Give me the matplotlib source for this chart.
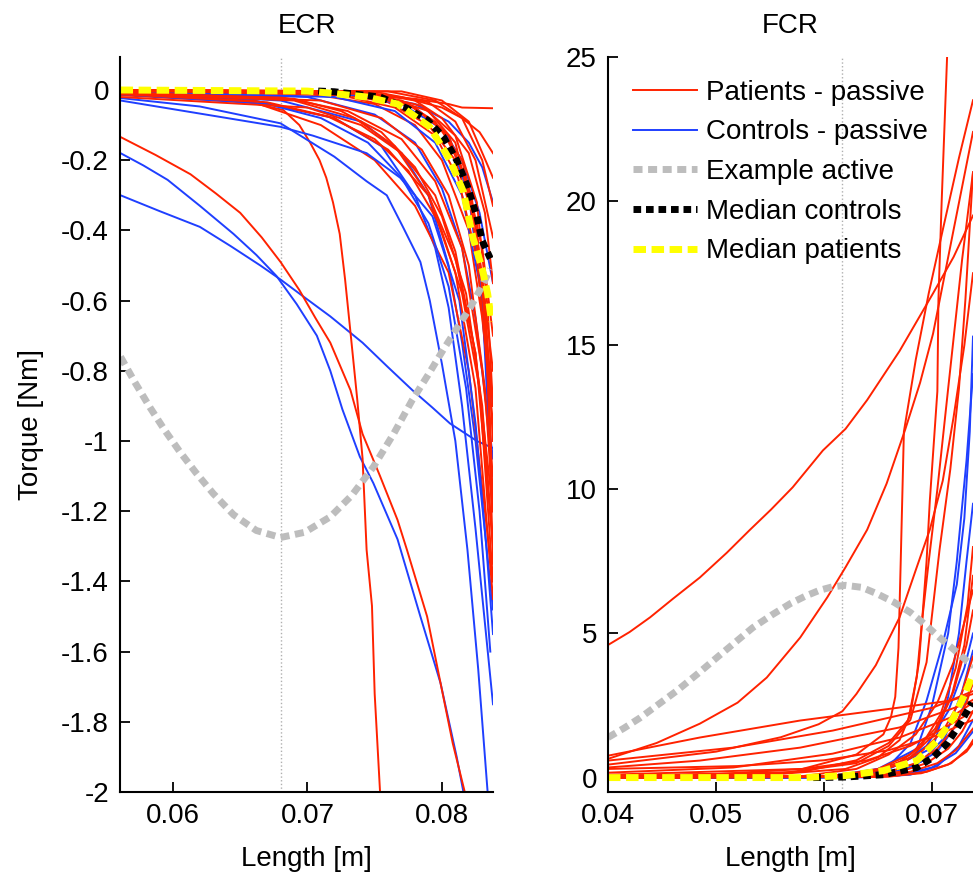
import matplotlib.pyplot as plt

# ---- ECR (left panel): each curve = ([length m], [torque Nm])
ECR_PATIENTS = [
    ([0.0561, 0.068, 0.074, 0.078, 0.0805, 0.0815, 0.0838], [-0.005, -0.01, -0.015, -0.025, -0.04, -0.05, -0.052]),
    ([0.0561, 0.072, 0.077, 0.080, 0.0815, 0.0828, 0.0838], [0, -0.005, -0.02, -0.05, -0.08, -0.12, -0.18]),
    ([0.0561, 0.064, 0.0682, 0.0694, 0.0702, 0.0709, 0.0714, 0.0719, 0.0724, 0.0728, 0.0732, 0.0737, 0.0741, 0.0744,
      0.0748, 0.075, 0.0754],
     [-0.005, -0.02, -0.057, -0.1, -0.15, -0.2, -0.25, -0.32, -0.41, -0.54, -0.69, -0.88, -1.05, -1.31, -1.47, -1.72, -2.0]),
    ([0.0561, 0.0587, 0.0613, 0.0632, 0.065, 0.0666, 0.068, 0.0694, 0.0706, 0.0717, 0.0732, 0.0741, 0.0754, 0.0767,
      0.0774, 0.0789, 0.0799, 0.0808, 0.0817],
     [-0.134, -0.185, -0.24, -0.295, -0.35, -0.42, -0.49, -0.57, -0.65, -0.72, -0.855, -0.98, -1.10, -1.225, -1.31,
      -1.50, -1.69, -1.86, -2.0]),
    ([0.0561, 0.066, 0.072, 0.076, 0.079, 0.081, 0.0825, 0.0838], [-0.01, -0.03, -0.08, -0.17, -0.3, -0.48, -0.75, -1.2]),
    ([0.0561, 0.066, 0.071, 0.075, 0.078, 0.0805, 0.082, 0.0838], [-0.015, -0.035, -0.10, -0.2, -0.33, -0.52, -0.8, -1.4]),
    ([0.0561, 0.068, 0.073, 0.077, 0.0795, 0.0815, 0.083, 0.0838], [-0.005, -0.02, -0.06, -0.14, -0.26, -0.45, -0.8, -1.1]),
    ([0.0561, 0.07, 0.075, 0.078, 0.080, 0.082, 0.083, 0.0838], [0, -0.01, -0.04, -0.1, -0.2, -0.4, -0.65, -0.95]),
    ([0.0561, 0.072, 0.076, 0.079, 0.081, 0.0825, 0.0838], [0, -0.008, -0.035, -0.1, -0.2, -0.38, -0.8]),
    ([0.0561, 0.073, 0.077, 0.0795, 0.0815, 0.083, 0.0838], [0, -0.005, -0.03, -0.09, -0.2, -0.45, -0.7]),
    ([0.0561, 0.074, 0.078, 0.080, 0.082, 0.0832, 0.0838], [0, -0.004, -0.03, -0.08, -0.18, -0.35, -0.55]),
    ([0.0561, 0.075, 0.079, 0.081, 0.0825, 0.0838], [0, -0.005, -0.035, -0.09, -0.2, -0.42]),
    ([0.0561, 0.076, 0.0795, 0.0815, 0.083, 0.0838], [0, -0.004, -0.03, -0.08, -0.2, -0.33]),
    ([0.0561, 0.077, 0.080, 0.082, 0.0838], [0, -0.004, -0.03, -0.09, -0.25]),
    ([0.0561, 0.070, 0.074, 0.077, 0.0795, 0.081, 0.0825, 0.0838], [-0.02, -0.05, -0.1, -0.18, -0.3, -0.46, -0.75, -1.3]),
    ([0.0561, 0.069, 0.0735, 0.0765, 0.079, 0.081, 0.0825, 0.0838], [-0.008, -0.03, -0.08, -0.16, -0.3, -0.52, -0.85, -1.45]),
    ([0.0561, 0.074, 0.078, 0.0805, 0.0822, 0.0832, 0.0838], [0, -0.01, -0.05, -0.13, -0.3, -0.6, -1.0]),
    ([0.0561, 0.075, 0.079, 0.081, 0.0826, 0.0838], [-0.003, -0.01, -0.06, -0.15, -0.4, -0.9]),
    ([0.0561, 0.071, 0.0755, 0.0785, 0.0805, 0.082, 0.0832, 0.0838], [-0.01, -0.03, -0.08, -0.17, -0.3, -0.5, -0.85, -1.2]),
    ([0.0561, 0.0725, 0.0765, 0.0795, 0.0812, 0.0826, 0.0834, 0.0838], [0, -0.015, -0.05, -0.13, -0.25, -0.48, -0.8, -1.35]),
    ([0.0561, 0.0735, 0.0775, 0.080, 0.0818, 0.083, 0.0836, 0.0838], [0, -0.01, -0.04, -0.11, -0.25, -0.55, -0.95, -1.2]),
    ([0.0561, 0.067, 0.0715, 0.075, 0.0775, 0.0798, 0.0815, 0.0828, 0.0838],
     [-0.012, -0.035, -0.075, -0.14, -0.23, -0.38, -0.58, -0.85, -1.4]),
    ([0.0561, 0.069, 0.0725, 0.0755, 0.078, 0.080, 0.0818, 0.083, 0.0838],
     [-0.006, -0.025, -0.06, -0.12, -0.22, -0.36, -0.58, -0.9, -1.3]),
    ([0.0561, 0.0745, 0.0785, 0.081, 0.0826, 0.0834, 0.0838], [0, -0.01, -0.045, -0.13, -0.32, -0.62, -0.9]),
]
ECR_CONTROLS = [
    ([0.0561, 0.0578, 0.0596, 0.062, 0.0645, 0.0662, 0.0677, 0.0692, 0.0707, 0.0717, 0.0726, 0.0739, 0.0749, 0.0767,
      0.0784, 0.0799, 0.0811, 0.0816],
     [-0.18, -0.215, -0.256, -0.33, -0.41, -0.47, -0.53, -0.61, -0.70, -0.80, -0.91, -1.045, -1.12, -1.28, -1.50, -1.69,
      -1.90, -2.0]),
    ([0.0561, 0.059, 0.062, 0.0643, 0.0665, 0.068, 0.0694, 0.0717, 0.0741, 0.076, 0.0778, 0.0793, 0.0806, 0.0826, 0.0838],
     [-0.30, -0.345, -0.39, -0.445, -0.50, -0.54, -0.58, -0.645, -0.72, -0.79, -0.855, -0.905, -0.95, -1.0, -1.02]),
    ([0.0561, 0.062, 0.068, 0.072, 0.0744, 0.0759, 0.0771, 0.0784, 0.0791, 0.080, 0.081, 0.0819, 0.0827, 0.0834],
     [-0.023, -0.047, -0.095, -0.19, -0.26, -0.30, -0.39, -0.49, -0.6, -0.78, -1.0, -1.31, -1.65, -2.0]),
    ([0.0561, 0.066, 0.072, 0.0755, 0.078, 0.0795, 0.0805, 0.0815, 0.0825, 0.0838],
     [-0.01, -0.03, -0.08, -0.16, -0.3, -0.45, -0.62, -0.9, -1.25, -1.75]),
    ([0.0561, 0.068, 0.074, 0.077, 0.079, 0.0805, 0.0815, 0.0825, 0.0838], [-0.005, -0.03, -0.09, -0.18, -0.3, -0.5, -0.72, -1.0, -1.48]),
    ([0.0561, 0.07, 0.075, 0.078, 0.080, 0.0815, 0.0825, 0.0838], [-0.003, -0.02, -0.07, -0.15, -0.28, -0.45, -0.65, -1.05]),
    ([0.0561, 0.074, 0.078, 0.0805, 0.082, 0.083, 0.0838], [0, -0.01, -0.04, -0.09, -0.15, -0.22, -0.32]),
    ([0.0561, 0.073, 0.077, 0.080, 0.0815, 0.0828, 0.0838], [-0.002, -0.012, -0.04, -0.11, -0.2, -0.35, -0.55]),
    ([0.0561, 0.074, 0.078, 0.0805, 0.082, 0.083, 0.0838], [0, -0.015, -0.05, -0.13, -0.3, -0.6, -1.2]),
    ([0.0561, 0.068, 0.0704, 0.0744, 0.0769, 0.0793, 0.0813, 0.0825, 0.0833, 0.0838],
     [-0.03, -0.105, -0.13, -0.18, -0.25, -0.36, -0.6, -0.95, -1.3, -1.55]),
    ([0.0561, 0.067, 0.071, 0.0745, 0.077, 0.079, 0.0805, 0.0818, 0.0828, 0.0836],
     [-0.012, -0.04, -0.08, -0.15, -0.25, -0.38, -0.56, -0.85, -1.2, -1.6]),
    ([0.0561, 0.072, 0.0765, 0.0795, 0.0815, 0.0828, 0.0838], [-0.004, -0.02, -0.06, -0.15, -0.3, -0.55, -0.9]),
]
ECR_ACTIVE_X = [0.0561, 0.0572, 0.0583, 0.0594, 0.0605, 0.0617, 0.063, 0.0645, 0.0662, 0.068, 0.0698, 0.0717,
                0.0733, 0.0749, 0.0764, 0.0778, 0.079, 0.0801, 0.0811, 0.0821, 0.0829, 0.0836]
ECR_ACTIVE_Y = [-0.76, -0.835, -0.905, -0.97, -1.03, -1.09, -1.15, -1.21, -1.255, -1.275, -1.26, -1.216,
                -1.155, -1.074, -0.98, -0.883, -0.81, -0.74, -0.68, -0.62, -0.565, -0.51]
ECR_MED_CTRL_X = [0.0708, 0.072, 0.0754, 0.0774, 0.0789, 0.0801, 0.0811, 0.0819, 0.0826, 0.083, 0.0836]
ECR_MED_CTRL_Y = [-0.003, -0.005, -0.02, -0.052, -0.085, -0.133, -0.2, -0.275, -0.36, -0.43, -0.48]
ECR_MED_PAT_X = [0.0561, 0.070, 0.0717, 0.0744, 0.0767, 0.0791, 0.0806, 0.0816, 0.0823, 0.0830, 0.0834, 0.0837]
ECR_MED_PAT_Y = [0, -0.003, -0.009, -0.02, -0.04, -0.105, -0.20, -0.29, -0.42, -0.51, -0.58, -0.66]
ECR_OPT_LENGTH = 0.068

# ---- FCR (right panel)
FCR_PATIENTS = [
    ([0.04, 0.042, 0.0439, 0.046, 0.0485, 0.051, 0.0531, 0.0551, 0.0571, 0.0599, 0.062, 0.064, 0.067, 0.0701, 0.072, 0.0738],
     [4.6, 5.05, 5.56, 6.2, 6.94, 7.8, 8.58, 9.3, 10.07, 11.35, 12.1, 13.1, 14.8, 16.8, 18.06, 19.5]),
    ([0.04, 0.055, 0.062, 0.065, 0.067, 0.068, 0.0688, 0.0695, 0.0698, 0.0705, 0.0706, 0.0709, 0.0714],
     [0.05, 0.1, 0.3, 0.7, 1.3, 2.2, 4.0, 7.5, 9.6, 13.4, 16.6, 20, 25]),
    ([0.04, 0.0445, 0.0485, 0.052, 0.0547, 0.0578, 0.0603, 0.062, 0.064, 0.0658, 0.0675, 0.0689, 0.0701, 0.072, 0.0738],
     [0.65, 1.2, 1.87, 2.6, 3.47, 4.86, 6.25, 7.3, 8.6, 10.2, 12.05, 13.7, 15.4, 19.0, 22.4]),
    ([0.04, 0.05, 0.056, 0.0595, 0.0617, 0.063, 0.0648, 0.067, 0.0685, 0.0698, 0.071, 0.072, 0.073, 0.0738],
     [0.45, 0.9, 1.4, 1.85, 2.3, 2.9, 3.9, 5.56, 7.2, 8.6, 10.3, 12.5, 15, 17.5]),
    ([0.04, 0.056, 0.063, 0.066, 0.068, 0.0695, 0.0707, 0.0717, 0.0725, 0.0731, 0.0738],
     [0.05, 0.15, 0.5, 1.1, 2.0, 4.0, 7.9, 10.7, 13.5, 16.6, 21.0]),
    ([0.04, 0.058, 0.063, 0.0655, 0.0662, 0.0666, 0.0669, 0.0671, 0.0674, 0.0685, 0.0697, 0.071, 0.0725, 0.0738],
     [0.1, 0.3, 0.8, 1.5, 2.1, 2.8, 4.5, 7.4, 12.0, 14.5, 16.8, 19.0, 21.5, 23.5]),
    ([0.04, 0.0485, 0.0578, 0.067, 0.0717, 0.0738], [0.76, 1.39, 1.98, 2.43, 2.67, 2.9]),
    ([0.04, 0.0516, 0.0608, 0.0701, 0.0738], [0.59, 1.04, 1.63, 2.43, 3.0]),
    ([0.04, 0.0485, 0.0578, 0.067, 0.0732, 0.0738], [0.35, 0.59, 1.04, 1.74, 2.57, 2.7]),
    ([0.04, 0.0516, 0.0608, 0.067, 0.0717, 0.0738], [0.17, 0.35, 0.83, 1.39, 2.08, 2.6]),
    ([0.04, 0.05, 0.058, 0.064, 0.068, 0.0715, 0.0738], [0.05, 0.12, 0.3, 0.6, 1.1, 1.8, 2.3]),
    ([0.04, 0.052, 0.06, 0.066, 0.07, 0.0738], [0.3, 0.4, 0.6, 0.95, 1.4, 2.0]),
    ([0.04, 0.06, 0.064, 0.067, 0.069, 0.071, 0.0725, 0.0738], [0, 0.02, 0.15, 0.45, 0.9, 1.6, 2.6, 4.2]),
    ([0.04, 0.062, 0.066, 0.0685, 0.0705, 0.072, 0.0732, 0.0738], [0, 0.03, 0.2, 0.5, 1.0, 1.7, 2.6, 3.3]),
    ([0.04, 0.063, 0.067, 0.0695, 0.0715, 0.0728, 0.0738], [0, 0.03, 0.2, 0.5, 1.0, 1.6, 2.3]),
    ([0.04, 0.064, 0.068, 0.0705, 0.0722, 0.0738], [0, 0.03, 0.2, 0.5, 0.95, 1.7]),
    ([0.04, 0.058, 0.063, 0.066, 0.0685, 0.0705, 0.072, 0.0738], [0.02, 0.05, 0.3, 0.8, 1.5, 2.6, 4.0, 6.5]),
    ([0.04, 0.06, 0.065, 0.068, 0.0702, 0.0718, 0.073, 0.0738], [0.01, 0.04, 0.25, 0.7, 1.5, 2.8, 4.6, 7.0]),
    ([0.04, 0.065, 0.069, 0.0715, 0.0732, 0.0738], [0, 0.02, 0.15, 0.45, 0.9, 1.2]),
    ([0.04, 0.0625, 0.0665, 0.069, 0.0708, 0.0722, 0.0733, 0.0738], [0, 0.05, 0.4, 1.1, 2.2, 3.8, 6.0, 8.0]),
    ([0.04, 0.061, 0.065, 0.068, 0.0703, 0.072, 0.0732, 0.0738], [0.01, 0.05, 0.3, 0.8, 1.7, 3.0, 4.6, 5.8]),
    ([0.04, 0.066, 0.0695, 0.0718, 0.0733, 0.0738], [0, 0.03, 0.2, 0.5, 1.0, 1.3]),
    ([0.04, 0.058, 0.063, 0.066, 0.0678, 0.0686, 0.0691, 0.0697, 0.0705, 0.0715, 0.0728, 0.0738],
     [0.05, 0.2, 0.6, 1.2, 2.0, 3.5, 5.5, 7.5, 10, 13.5, 18, 21]),
]
FCR_CONTROLS = [
    ([0.04, 0.058, 0.063, 0.066, 0.068, 0.0695, 0.071, 0.0723, 0.073, 0.0735, 0.0738],
     [0, 0.0, 0.1, 0.4, 1.18, 2.67, 4.65, 6.7, 9.0, 12, 15.3]),
    ([0.04, 0.06, 0.065, 0.0686, 0.070, 0.0715, 0.0723, 0.0732, 0.0738], [0, 0.02, 0.3, 1.0, 2.5, 5, 7.5, 11, 14]),
    ([0.04, 0.061, 0.066, 0.0701, 0.0715, 0.0725, 0.0732, 0.0738], [0, 0.02, 0.3, 1.04, 2.8, 5, 7.5, 9.5]),
    ([0.04, 0.06, 0.064, 0.067, 0.0695, 0.0715, 0.073, 0.0738], [0, 0.01, 0.12, 0.45, 1.1, 2.3, 3.8, 5.0]),
    ([0.04, 0.061, 0.065, 0.068, 0.0705, 0.0722, 0.0738], [0, 0.01, 0.1, 0.35, 0.9, 1.8, 3.3]),
    ([0.04, 0.063, 0.067, 0.07, 0.0722, 0.0738], [0, 0.01, 0.08, 0.35, 0.85, 1.6]),
    ([0.04, 0.062, 0.066, 0.069, 0.0712, 0.0728, 0.0738], [0, 0.02, 0.15, 0.55, 1.4, 3.0, 4.4]),
    ([0.04, 0.064, 0.068, 0.0705, 0.0725, 0.0738], [0, 0.01, 0.1, 0.4, 1.1, 2.0]),
]
FCR_ACTIVE_X = [0.04, 0.0415, 0.043, 0.0447, 0.0464, 0.0483, 0.0501, 0.0518, 0.0534, 0.0552, 0.0569, 0.0583,
                0.0596, 0.0608, 0.062, 0.0635, 0.0649, 0.0665, 0.068, 0.0694, 0.0707, 0.072, 0.0732, 0.0745]
FCR_ACTIVE_Y = [1.39, 1.72, 2.08, 2.55, 3.02, 3.6, 4.17, 4.7, 5.2, 5.65, 6.04, 6.3,
                6.5, 6.62, 6.67, 6.6, 6.38, 6.08, 5.73, 5.3, 4.86, 4.45, 4.06, 3.7]
FCR_MED_CTRL_X = [0.059, 0.062, 0.0655, 0.0686, 0.0701, 0.0714, 0.0726, 0.0737]
FCR_MED_CTRL_Y = [0, 0.02, 0.1, 0.35, 0.7, 1.18, 1.87, 2.6]
FCR_MED_PAT_X = [0.04, 0.058, 0.062, 0.0655, 0.0686, 0.0705, 0.072, 0.0729, 0.0737]
FCR_MED_PAT_Y = [0, 0.0, 0.07, 0.24, 0.59, 1.28, 2.08, 2.78, 3.47]
FCR_OPT_LENGTH = 0.0617

RED = '#ff2200'
BLUE = '#1f3fff'
GREY = '#bdbdbd'

plt.rcParams['font.family'] = ['Liberation Sans', 'DejaVu Sans']
plt.rcParams['font.size'] = 20


def draw(ax, patients, controls, act, ctrl, pat, opt, ylim):
    ax.axvline(opt, color='#b0b0b0', ls=':', lw=1.0, zorder=0)
    handles = []
    n = max(len(patients), len(controls))
    for i in range(n):
        if i < len(patients):
            h, = ax.plot(*patients[i], color=RED, lw=1.4)
            if i == 0:
                handles.append(h)
        if i < len(controls):
            h, = ax.plot(*controls[i], color=BLUE, lw=1.4)
            if i == 0:
                handles.append(h)
    h, = ax.plot(*act, color=GREY, lw=5, dashes=(1.3, 0.8), dash_capstyle='butt')
    handles.append(h)
    h, = ax.plot(*ctrl, color='black', lw=5, dashes=(1.1, 0.7), dash_capstyle='butt')
    handles.append(h)
    h, = ax.plot(*pat, color='#ffff00', lw=5, dashes=(1.8, 0.8), dash_capstyle='butt')
    handles.append(h)
    ax.set_ylim(*ylim)
    for s in ('top', 'right'):
        ax.spines[s].set_visible(False)
    for s in ('left', 'bottom'):
        ax.spines[s].set_linewidth(1.5)
    ax.tick_params(direction='in', length=7, width=1.3, pad=8, labelsize=20)
    ax.set_xlabel('Length [m]', labelpad=12)
    return handles


fig = plt.figure(figsize=(9.73, 8.82), dpi=100)
ax1 = fig.add_axes([120 / 973, 90 / 882, 373 / 973, 735 / 882])
ax2 = fig.add_axes([608 / 973, 90 / 882, 365 / 973, 735 / 882])

draw(ax1, ECR_PATIENTS, ECR_CONTROLS, (ECR_ACTIVE_X, ECR_ACTIVE_Y),
     (ECR_MED_CTRL_X, ECR_MED_CTRL_Y), (ECR_MED_PAT_X, ECR_MED_PAT_Y), ECR_OPT_LENGTH, (-2, 0.094))
ax1.set_xlim(0.05606, 0.0838)
ax1.set_xticks([0.06, 0.07, 0.08])
ax1.set_xticklabels(['0.06', '0.07', '0.08'])
yt = [-2, -1.8, -1.6, -1.4, -1.2, -1, -0.8, -0.6, -0.4, -0.2, 0]
ax1.set_yticks(yt)
ax1.set_yticklabels(['%g' % v for v in yt])
ax1.set_ylabel('Torque [Nm]', labelpad=12)
ax1.set_title('ECR', pad=17, fontsize=20)

handles = draw(ax2, FCR_PATIENTS, FCR_CONTROLS, (FCR_ACTIVE_X, FCR_ACTIVE_Y),
               (FCR_MED_CTRL_X, FCR_MED_CTRL_Y), (FCR_MED_PAT_X, FCR_MED_PAT_Y), FCR_OPT_LENGTH, (-0.5, 25))
ax2.set_xlim(0.04, 0.0738)
ax2.set_xticks([0.04, 0.05, 0.06, 0.07])
ax2.set_xticklabels(['0.04', '0.05', '0.06', '0.07'])
ax2.set_yticks([0, 5, 10, 15, 20, 25])
ax2.set_title('FCR', pad=17, fontsize=20)
ax2.legend(handles, ['Patients - passive', 'Controls - passive', 'Example active',
                     'Median controls', 'Median patients'],
           loc='upper left', bbox_to_anchor=(0.068, 0.969), frameon=False,
           borderaxespad=0, borderpad=0, handlelength=2.3, handletextpad=0.35,
           labelspacing=0.49, fontsize=20)

fig.savefig('out.png', dpi=100)
